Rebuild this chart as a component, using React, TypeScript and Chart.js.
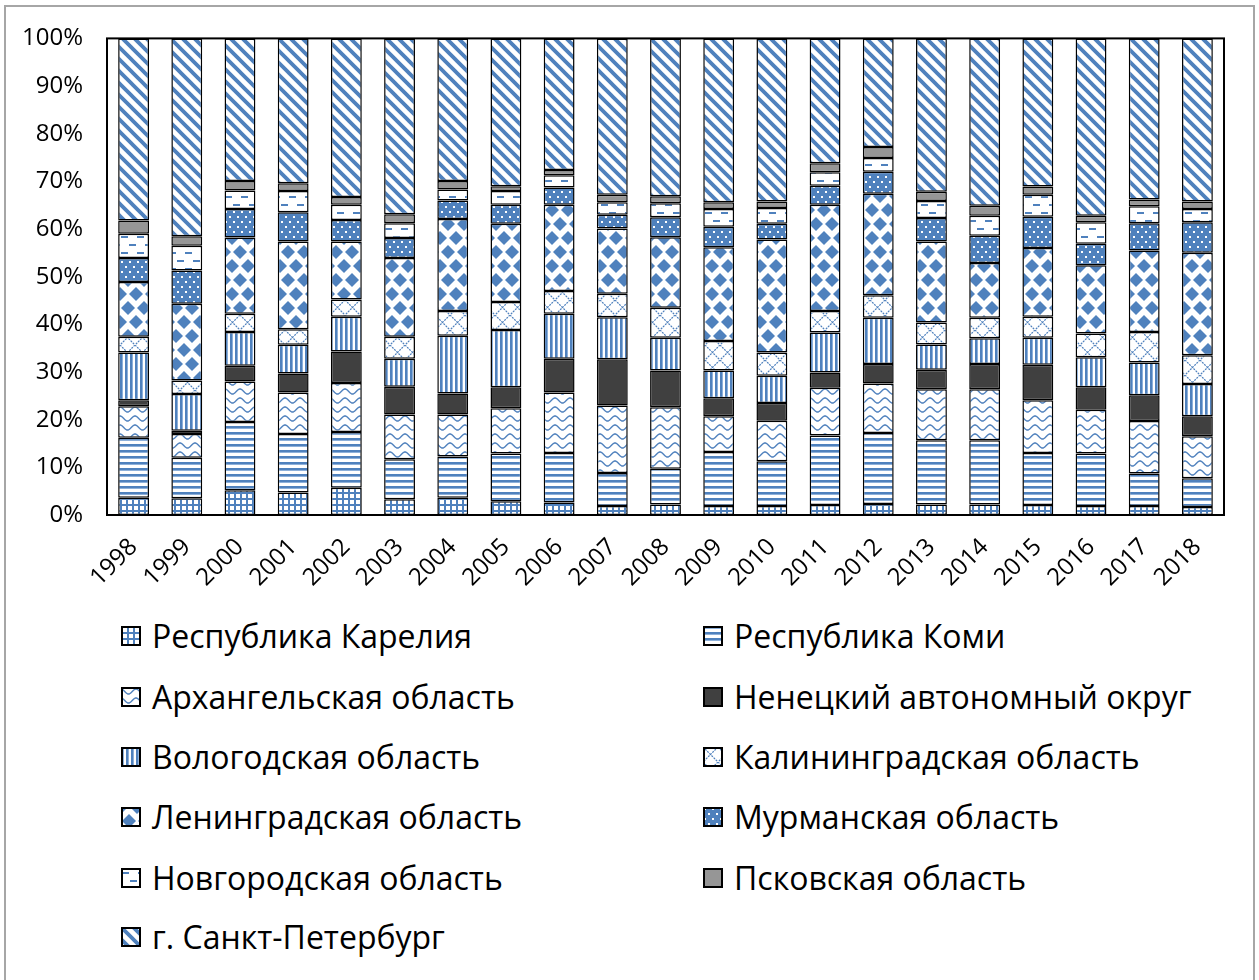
import React, { useEffect, useRef } from "react";
import { Chart, registerables } from "chart.js";

Chart.register(...registerables);

const years = ["1998", "1999", "2000", "2001", "2002", "2003", "2004", "2005", "2006", "2007", "2008", "2009", "2010", "2011", "2012", "2013", "2014", "2015", "2016", "2017", "2018"];

const karelia = [3.6, 3.5, 5.2, 4.7, 5.7, 3.3, 3.6, 2.9, 2.6, 1.9, 2.2, 1.9, 1.9, 2.1, 2.3, 2.2, 2.2, 2.1, 1.9, 1.9, 1.7];
const komi = [12.6, 8.5, 14.3, 12.3, 11.7, 8.4, 8.7, 10.0, 10.4, 6.9, 7.5, 11.3, 9.4, 14.6, 14.9, 13.5, 13.5, 10.9, 11.0, 6.8, 6.0];
const arkhangelsk = [6.6, 5.0, 8.5, 8.7, 10.3, 9.4, 8.8, 9.5, 12.7, 14.2, 12.9, 7.5, 8.5, 10.0, 10.4, 10.7, 10.7, 11.1, 9.2, 11.0, 8.8];
const nenets = [1.3, 0.7, 3.3, 4.0, 6.6, 5.8, 4.4, 4.4, 7.1, 9.7, 7.7, 3.8, 3.7, 3.2, 4.1, 4.1, 5.3, 7.4, 4.7, 5.4, 4.2];
const vologda = [10.0, 7.7, 7.1, 6.0, 7.3, 5.9, 12.1, 12.0, 9.4, 8.8, 6.9, 5.8, 5.7, 8.4, 9.7, 5.3, 5.4, 5.7, 6.3, 6.9, 6.8];
const kaliningrad = [3.3, 2.8, 3.8, 3.3, 3.6, 4.6, 5.2, 5.9, 4.8, 4.9, 6.3, 6.2, 4.9, 4.5, 4.7, 4.6, 4.3, 4.4, 5.0, 6.4, 6.0];
const leningrad = [11.5, 16.1, 16.0, 18.4, 12.2, 16.5, 19.3, 16.4, 18.1, 13.7, 14.8, 19.7, 23.7, 22.3, 21.3, 17.0, 11.5, 14.4, 14.3, 17.1, 21.5];
const murmansk = [5.0, 7.0, 6.0, 6.1, 4.5, 4.2, 3.9, 4.0, 3.6, 2.9, 4.2, 4.3, 3.3, 4.0, 4.6, 4.9, 5.7, 6.6, 4.5, 5.7, 6.4];
const novgorod = [5.1, 5.2, 3.9, 4.5, 3.2, 3.1, 2.3, 2.9, 2.6, 2.6, 2.9, 3.7, 3.3, 2.8, 2.9, 3.6, 4.2, 4.6, 4.5, 3.6, 2.8];
const pskov = [2.8, 2.0, 2.0, 1.6, 1.6, 1.9, 1.8, 1.0, 1.1, 1.6, 1.5, 1.4, 1.4, 1.9, 2.3, 1.9, 2.1, 1.7, 1.4, 1.4, 1.6];
const spb = [38.2, 41.5, 29.9, 30.4, 33.3, 36.9, 29.9, 31.0, 27.6, 32.8, 33.1, 34.4, 34.2, 26.2, 22.8, 32.2, 35.1, 31.1, 37.2, 33.8, 34.2];

const seriesNames = [
  "Республика Карелия",
  "Республика Коми",
  "Архангельская область",
  "Ненецкий автономный округ",
  "Вологодская область",
  "Калининградская область",
  "Ленинградская область",
  "Мурманская область",
  "Новгородская область",
  "Псковская область",
  "г. Санкт-Петербург",
];
const seriesValues = [karelia, komi, arkhangelsk, nenets, vologda, kaliningrad, leningrad, murmansk, novgorod, pskov, spb];
const patternKinds = ["grid", "hlines", "waves", "solidDark", "vlines", "lattice", "diamonds", "dots", "dashes", "solidGrey", "diag"];

const BLUE = "#4F81BD";
const LIGHT = "#8DB0DA";
const FONT = "'Open Sans', 'Noto Sans', sans-serif";

function makeTile(kind: string): HTMLCanvasElement | string {
  if (kind === "solidDark") return "#404040";
  if (kind === "solidGrey") return "#969696";
  const sizes: Record<string, [number, number]> = {
    grid: [6, 6],
    hlines: [1, 6],
    vlines: [5, 1],
    waves: [15, 9],
    lattice: [15, 15],
    diamonds: [16, 28],
    dots: [8, 10],
    dashes: [16, 16],
    diag: [12, 12],
  };
  const [w, h] = sizes[kind];
  const c = document.createElement("canvas");
  c.width = w;
  c.height = h;
  const g = c.getContext("2d")!;
  g.fillStyle = "#fff";
  g.fillRect(0, 0, w, h);
  g.fillStyle = BLUE;
  g.strokeStyle = BLUE;
  switch (kind) {
    case "grid":
      g.fillRect(0, 0, w, 2);
      g.fillRect(0, 0, 2, h);
      break;
    case "hlines":
      g.fillRect(0, 0, 1, 2);
      g.fillStyle = LIGHT;
      g.fillRect(0, 2, 1, 1);
      break;
    case "vlines":
      g.fillRect(0, 0, 2, 1);
      g.fillStyle = LIGHT;
      g.fillRect(2, 0, 1, 1);
      break;
    case "waves": {
      g.strokeStyle = "#4F81BD";
      g.lineWidth = 1.4;
      g.beginPath();
      for (let x = -1; x <= w + 1; x += 0.5) {
        const y = 4.5 - 2.5 * Math.cos((2 * Math.PI * x) / w);
        if (x === -1) g.moveTo(x, y);
        else g.lineTo(x, y);
      }
      g.stroke();
      break;
    }
    case "lattice":
      g.strokeStyle = "#4F81BD";
      g.lineWidth = 1.2;
      g.setLineDash([2, 1]);
      g.beginPath();
      g.moveTo(0, 0);
      g.lineTo(w, h);
      g.moveTo(w, 0);
      g.lineTo(0, h);
      g.stroke();
      break;
    case "diamonds": {
      const r = 7;
      const centers = [[0, 0], [w, 0], [0, h], [w, h], [w / 2, h / 2]];
      centers.forEach(([cx, cy]) => {
        g.beginPath();
        g.moveTo(cx, cy - r);
        g.lineTo(cx + r, cy);
        g.lineTo(cx, cy + r);
        g.lineTo(cx - r, cy);
        g.closePath();
        g.fill();
      });
      break;
    }
    case "dots":
      g.fillRect(0, 0, w, h);
      g.fillStyle = "#fff";
      g.fillRect(1, 1, 2, 2);
      g.fillRect(5, 6, 2, 2);
      break;
    case "dashes":
      g.fillRect(1, 4, 7, 2);
      g.fillRect(9, 12, 7, 2);
      break;
    case "diag":
      g.lineWidth = 3.8;
      g.beginPath();
      for (const k of [-w, 0, w]) {
        g.moveTo(k - 2, -2);
        g.lineTo(k + w + 2, h + 2);
      }
      g.stroke();
      break;
  }
  return c;
}

function toFill(ctx: CanvasRenderingContext2D, tile: HTMLCanvasElement | string) {
  if (typeof tile === "string") return tile;
  return ctx.createPattern(tile, "repeat")!;
}

const framePlugin = {
  id: "frame",
  afterDatasetsDraw(chart: any) {
    const { ctx, chartArea: a } = chart;
    ctx.save();
    ctx.strokeStyle = "#000";
    ctx.lineWidth = 2;
    ctx.strokeRect(a.left, a.top, a.right - a.left, a.bottom - a.top);
    ctx.restore();
  },
};

export default function App() {
  const canvasRef = useRef<HTMLCanvasElement | null>(null);
  const swatchRefs = useRef<(HTMLCanvasElement | null)[]>([]);

  useEffect(() => {
    const canvas = canvasRef.current!;
    const ctx = canvas.getContext("2d")!;
    const tiles = patternKinds.map(makeTile);

    const chart = new Chart(ctx, {
      type: "bar",
      data: {
        labels: years,
        datasets: seriesNames.map((name, i) => ({
          label: name,
          data: seriesValues[i],
          backgroundColor: toFill(ctx, tiles[i]) as any,
          borderColor: "#000",
          borderWidth: 1.5,
          borderSkipped: false,
          barPercentage: 0.58,
          categoryPercentage: 1.0,
        })),
      },
      options: {
        animation: false,
        responsive: false,
        maintainAspectRatio: false,
        layout: { padding: { top: 36, right: 35, left: 0, bottom: 0 } },
        plugins: { legend: { display: false }, tooltip: { enabled: false } },
        font: { family: FONT },
        scales: {
          x: {
            stacked: true,
            grid: { display: false, drawTicks: false },
            border: { display: false },
            ticks: {
              maxRotation: 45,
              minRotation: 45,
              autoSkip: false,
              padding: 18,
              color: "#000",
              font: { family: FONT, size: 24 },
            },
            afterFit: (s: any) => {
              s.height = 85;
            },
          },
          y: {
            stacked: true,
            min: 0,
            max: 100,
            grid: { display: false, drawTicks: false },
            border: { display: false },
            ticks: {
              stepSize: 10,
              padding: 24,
              color: "#000",
              font: { family: FONT, size: 24 },
              callback: (v: any) => v + "%",
            },
            afterFit: (s: any) => {
              s.width = 107;
            },
          },
        },
      } as any,
      plugins: [framePlugin],
    });

    swatchRefs.current.forEach((sc, i) => {
      if (!sc) return;
      const g = sc.getContext("2d")!;
      g.clearRect(0, 0, sc.width, sc.height);
      g.fillStyle = toFill(g, tiles[i]) as any;
      g.fillRect(0, 0, sc.width, sc.height);
      g.strokeStyle = "#000";
      g.lineWidth = 2;
      g.strokeRect(1, 1, sc.width - 2, sc.height - 2);
    });

    return () => chart.destroy();
  }, []);

  const rowCenters = [636, 697, 757, 817, 878, 937];

  return (
    <div
      style={{
        position: "fixed",
        left: 0,
        top: 0,
        width: 1259,
        height: 980,
        background: "#fff",
        overflow: "hidden",
        fontFamily: FONT,
      }}
    >
      <div
        style={{
          position: "absolute",
          left: 4,
          top: 5,
          width: 1251,
          height: 1100,
          border: "2px solid #a6a6a6",
          boxSizing: "border-box",
        }}
      />
      <canvas
        ref={canvasRef}
        width={1259}
        height={600}
        style={{ position: "absolute", left: 0, top: 0, width: 1259, height: 600 }}
      />
      {seriesNames.map((name, i) => {
        const col = i % 2;
        const row = Math.floor(i / 2);
        const cy = rowCenters[row];
        const boxX = col === 0 ? 121 : 703;
        const textX = col === 0 ? 152 : 734;
        return (
          <React.Fragment key={name}>
            <canvas
              ref={(el) => {
                swatchRefs.current[i] = el;
              }}
              width={20}
              height={20}
              style={{ position: "absolute", left: boxX, top: cy - 10, width: 20, height: 20 }}
            />
            <div
              style={{
                position: "absolute",
                left: textX,
                top: cy - 22,
                height: 44,
                lineHeight: "44px",
                fontSize: 32,
                color: "#000",
                whiteSpace: "nowrap",
              }}
            >
              {name}
            </div>
          </React.Fragment>
        );
      })}
    </div>
  );
}
